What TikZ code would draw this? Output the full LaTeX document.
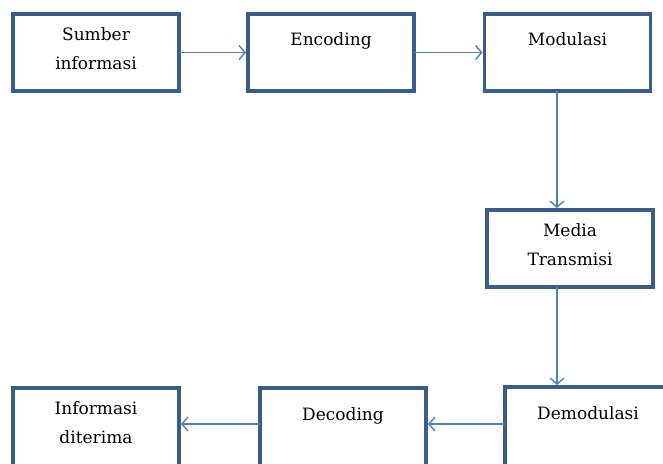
\documentclass[tikz,border=0pt]{standalone}
\usepackage{fontspec}
\setmainfont{DejaVu Serif}
\usetikzlibrary{arrows.meta}

\definecolor{boxblue}{RGB}{56,93,138}
\definecolor{arrowblue}{RGB}{79,129,189}

\newlength{\tinggi}
\setlength{\tinggi}{50pt}
% text of one box, set from the top; #1 pushes one-line texts down
\newcommand{\boxtxt}[2][0pt]{\parbox[t][\tinggi][t]{150pt}{\centering\vspace*{#1}#2}}

\tikzset{
    blok/.style={draw=boxblue, line width=3.8pt, inner xsep=8pt, inner ysep=13.5pt,
      outer sep=0pt, anchor=north, font=\fontsize{17}{29}\selectfont},
    bawah/.style={blok, execute at begin node={\setlength{\tinggi}{80pt}}},
    panah/.style={draw=arrowblue, line width=1.4pt, shorten >=2pt,
      -{Straight Barb[length=6pt,width=14pt]}}
}

\begin{document}
\begin{tikzpicture}[x=1pt, y=-1pt]
    \useasboundingbox (0,0) rectangle (663,463);

    \node[blok] (sumber) at (96, 14) {\boxtxt{Sumber\\informasi}};
    \node[blok] (enc) at (331, 14) {\boxtxt[5pt]{Encoding}};
    \node[blok] (mod) at (567.5, 14) {\boxtxt[5pt]{Modulasi}};
    \node[blok] (media) at (570, 210) {\boxtxt{Media\\Transmisi}};
    \node[bawah] (demod) at (588, 387) {\boxtxt[6pt]{Demodulasi}};
    \node[bawah] (dec) at (343, 388) {\boxtxt[6pt]{Decoding}};
    \node[bawah] (info) at (96, 388) {\boxtxt{Informasi\\diterima}};

    \coordinate (m1) at ([xshift=-10.5pt]mod.south);
    \coordinate (m2) at ([xshift=-13pt]media.south);
    \coordinate (d1) at ([yshift=-37pt]demod.north west);

    \draw[panah] (sumber) -- (enc);
    \draw[panah] (enc) -- (mod);
    \draw[panah] (m1) -- (m1 |- media.north);
    \draw[panah] (m2) -- (m2 |- demod.north);
    \draw[panah] (d1) -- (d1 -| dec.east);
    \draw[panah] (d1 -| dec.west) -- (d1 -| info.east);
\end{tikzpicture}
\end{document}
